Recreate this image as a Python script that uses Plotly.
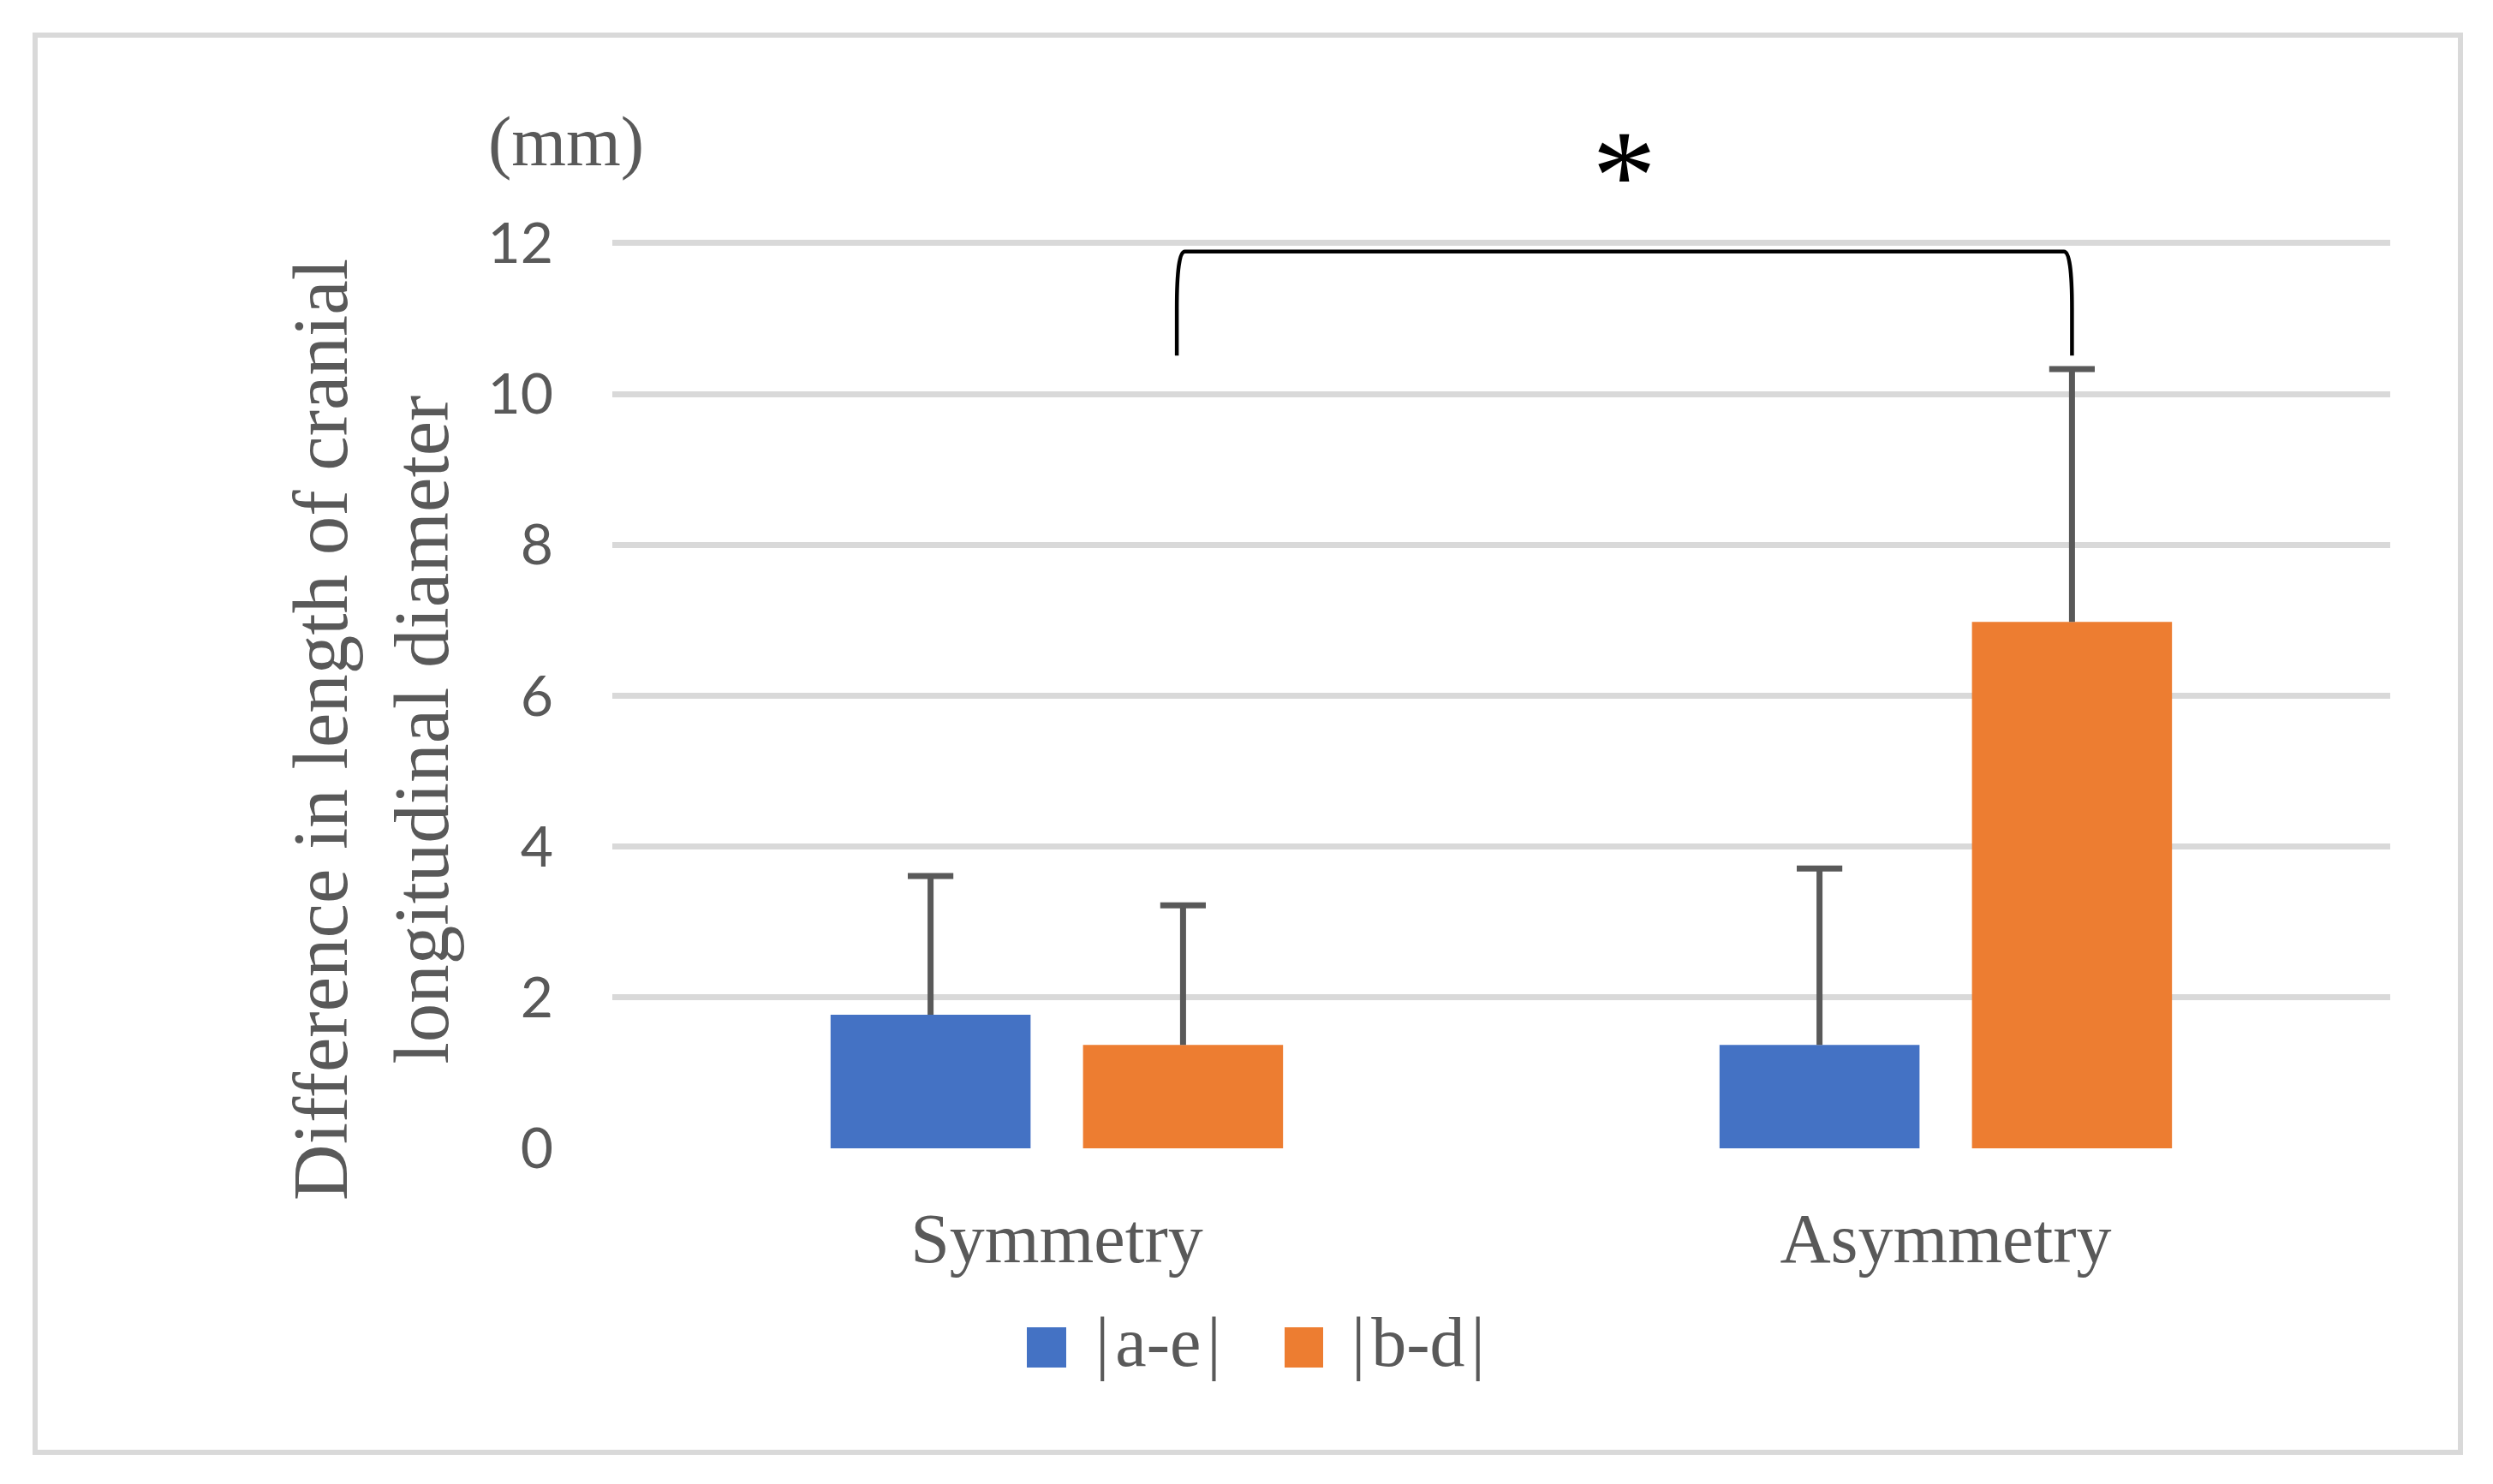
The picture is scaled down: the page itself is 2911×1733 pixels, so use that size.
import plotly.graph_objects as go

# ---------------- data ----------------
categories = ["Symmetry", "Asymmetry"]
series_names = ["|\u200aa-e\u200a|", "|\u200ab-d\u200a|"]
ae_mean = [1.77, 1.37]
ae_sd = [1.84, 2.34]
bd_mean = [1.37, 6.98]
bd_sd = [1.85, 3.35]
y_ticks = [0, 2, 4, 6, 8, 10, 12]
unit_label = "(mm)"
y_title = "Difference in length of cranial<br>longitudinal diameter"
sig_mark = "*"
bracket_left = 0.135     # x (category units) of left bracket leg
bracket_right = 1.142    # x of right bracket leg
bracket_bottom = 10.51
bracket_top = 11.89
sig_y = 12.91

# ---------------- styling / geometry ----------------
W, H = 2911, 1733
ML, MR, MT, MB = 715, 120, 143, 392
Y_MAX = 13.6
BLUE = "#4472C4"
ORANGE = "#ED7D31"
GRAY_TXT = "#595959"
GRID = "#D9D9D9"
ERR = "#595959"
SERIF = "Liberation Serif"
BAR_W = 0.225
OFFS = [-0.2545, 0.0295]

plot_w = W - ML - MR
plot_h = H - MT - MB


def px2x(px):
    return (px - ML) / plot_w


def py2y(py):
    return (H - MB - py) / plot_h


xs = list(range(len(categories)))
fig = go.Figure()

for name, mean, sd, color, off in [
    (series_names[0], ae_mean, ae_sd, BLUE, OFFS[0]),
    (series_names[1], bd_mean, bd_sd, ORANGE, OFFS[1]),
]:
    fig.add_trace(go.Bar(
        x=xs, y=mean, name=name, width=BAR_W, offset=off,
        marker=dict(color=color, line=dict(width=0)),
        error_y=dict(type="data", array=sd, arrayminus=[0] * len(sd),
                     symmetric=False, color=ERR, thickness=7, width=0),
        showlegend=False,
    ))
    # caps of the (plus-only) error bars
    fig.add_trace(go.Scatter(
        x=[x + off + BAR_W / 2 for x in xs],
        y=[m + s for m, s in zip(mean, sd)],
        mode="markers",
        marker=dict(symbol="line-ew", size=38, color=ERR,
                    line=dict(color=ERR, width=7)),
        showlegend=False, hoverinfo="skip", cliponaxis=False,
    ))

# significance bracket
dx = 0.009
ymid = bracket_bottom + 0.45 * (bracket_top - bracket_bottom)
path = (f"M {bracket_left},{bracket_bottom} L {bracket_left},{ymid} "
        f"Q {bracket_left},{bracket_top} {bracket_left + dx},{bracket_top} "
        f"L {bracket_right - dx},{bracket_top} "
        f"Q {bracket_right},{bracket_top} {bracket_right},{ymid} "
        f"L {bracket_right},{bracket_bottom}")
shapes = [
    dict(type="path", path=path, xref="x", yref="y",
         line=dict(color="black", width=4.5)),
    # outer chart border
    dict(type="rect", xref="paper", yref="paper",
         x0=px2x(41), x1=px2x(2873), y0=py2y(1696), y1=py2y(41),
         line=dict(color=GRID, width=6), layer="below"),
    # legend swatches
    dict(type="rect", xref="paper", yref="paper",
         x0=px2x(1199), x1=px2x(1245), y0=py2y(1597), y1=py2y(1550),
         fillcolor=BLUE, line=dict(width=0)),
    dict(type="rect", xref="paper", yref="paper",
         x0=px2x(1500), x1=px2x(1545), y0=py2y(1597), y1=py2y(1550),
         fillcolor=ORANGE, line=dict(width=0)),
]

annotations = [
    dict(text=sig_mark, x=(bracket_left + bracket_right) / 2, y=sig_y,
         xref="x", yref="y", showarrow=False,
         font=dict(family=SERIF, size=150, color="black"),
         xanchor="center", yanchor="middle"),
    dict(text=unit_label, x=px2x(661), y=py2y(165), xref="paper", yref="paper",
         showarrow=False, font=dict(family=SERIF, size=82, color=GRAY_TXT),
         xanchor="center", yanchor="middle"),
    dict(text=y_title, x=px2x(433), y=py2y(852), xref="paper", yref="paper",
         showarrow=False, textangle=-90, align="center",
         font=dict(family=SERIF, size=91, color=GRAY_TXT),
         xanchor="center", yanchor="middle"),
    dict(text=series_names[0], x=px2x(1277), y=py2y(1567), xref="paper",
         yref="paper", showarrow=False,
         font=dict(family=SERIF, size=82, color=GRAY_TXT),
         xanchor="left", yanchor="middle"),
    dict(text=series_names[1], x=px2x(1576), y=py2y(1567), xref="paper",
         yref="paper", showarrow=False,
         font=dict(family=SERIF, size=82, color=GRAY_TXT),
         xanchor="left", yanchor="middle"),
]

fig.update_layout(
    width=W, height=H,
    margin=dict(l=ML, r=MR, t=MT, b=MB, pad=0),
    paper_bgcolor="white", plot_bgcolor="white",
    barmode="overlay",
    showlegend=False,
    shapes=shapes,
    annotations=annotations,
    xaxis=dict(range=[-0.5, 1.5], tickvals=xs, ticktext=categories,
               showgrid=False, zeroline=False, showline=False, ticks="",
               ticklabelstandoff=50,
               tickfont=dict(family=SERIF, size=82, color=GRAY_TXT)),
    yaxis=dict(range=[0, Y_MAX], tickvals=y_ticks,
               showgrid=True, gridcolor=GRID, gridwidth=7,
               zeroline=False, showline=False, ticks="",
               ticklabelstandoff=68,
               tickfont=dict(family="Lato", size=66, color=GRAY_TXT)),
)

fig.write_html("out.html",
               config={"displayModeBar": False},
               post_script="document.body.style.margin='0';"
                           "document.body.style.overflow='hidden';")
